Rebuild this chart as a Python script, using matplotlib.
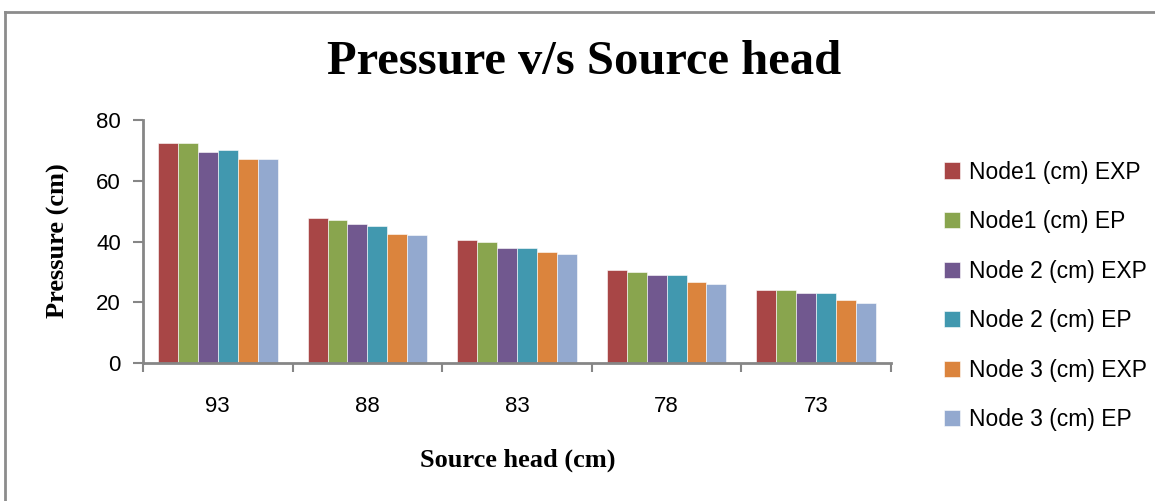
import matplotlib.pyplot as plt
import numpy as np
from matplotlib.lines import Line2D

categories = ["93", "88", "83", "78", "73"]
series_names = ["Node1 (cm) EXP", "Node1 (cm) EP", "Node 2 (cm) EXP",
                "Node 2 (cm) EP", "Node 3 (cm) EXP", "Node 3 (cm) EP"]
node1_exp = [72.3, 47.7, 40.6, 30.6, 24.0]
node1_ep = [72.3, 47.1, 40.0, 30.0, 24.0]
node2_exp = [69.6, 45.7, 38.0, 29.0, 23.1]
node2_ep = [70.2, 45.0, 38.0, 29.0, 23.1]
node3_exp = [67.1, 42.5, 36.6, 26.6, 20.6]
node3_ep = [67.1, 42.1, 36.0, 26.1, 19.9]
colors = ["#A84646", "#89A54E", "#71588F", "#4198AF", "#DB843D", "#93A9CF"]

series = [node1_exp, node1_ep, node2_exp, node2_ep, node3_exp, node3_ep]

fig = plt.figure(figsize=(11.55, 5.01), dpi=100)
ax = fig.add_axes([143 / 1155, 1 - 363 / 501, (891 - 143) / 1155, (363 - 120) / 501])

x = np.arange(len(categories))
w = 0.8 / len(series)
for i, (vals, name, c) in enumerate(zip(series, series_names, colors)):
    ax.bar(x - 0.4 + w * (i + 0.5), vals, width=w, color=c, label=name,
           edgecolor="white", linewidth=0.4)

ax.set_xlim(-0.5, len(categories) - 0.5)
ax.set_ylim(0, 80)
ax.set_yticks([0, 20, 40, 60, 80])
ax.set_xticks(x)
ax.set_xticks(np.arange(len(categories) + 1) - 0.5, minor=True)
ax.tick_params(axis="x", which="major", length=0, pad=24)
ax.tick_params(axis="x", which="minor", length=6.5, color="#868686", width=1.5)
ax.tick_params(axis="y", length=7, color="#868686", width=1.5, pad=9)
ax.set_xticklabels(categories, fontsize=16, family="Liberation Sans")
for lab in ax.get_yticklabels():
    lab.set_fontsize(16)
    lab.set_family("Liberation Sans")

for side in ["top", "right"]:
    ax.spines[side].set_visible(False)
for side in ["left", "bottom"]:
    ax.spines[side].set_color("#868686")
    ax.spines[side].set_linewidth(2)

fig.text(58 / 1155, 1 - 241 / 501, "Pressure (cm)", fontsize=19, fontweight="bold",
         family="Liberation Serif", rotation=90, ha="center", va="center")
fig.text(518 / 1155, 1 - 460 / 501, "Source head (cm)", fontsize=19,
         fontweight="bold", family="Liberation Serif", ha="center", va="center")

fig.text(584 / 1155, 1 - 62 / 501, "Pressure v/s Source head", fontsize=35,
         fontweight="bold", family="Liberation Serif", ha="center", va="center")

ax.legend(loc="center left", bbox_to_anchor=(923 / 1155, 1 - 296 / 501),
          bbox_transform=fig.transFigure, frameon=False,
          prop={"family": "Liberation Sans", "size": 16.5},
          handlelength=0.7, handleheight=0.7, handletextpad=0.4,
          labelspacing=1.16)

# outer frame: only top and left edges visible
fig.add_artist(Line2D([5 / 1155, 5 / 1155], [0, 1 - 12 / 501],
                      transform=fig.transFigure, color="#8C8C8C", linewidth=2))
fig.add_artist(Line2D([5 / 1155, 1], [1 - 12 / 501, 1 - 12 / 501],
                      transform=fig.transFigure, color="#8C8C8C", linewidth=2))

fig.savefig("out.png", dpi=100)
